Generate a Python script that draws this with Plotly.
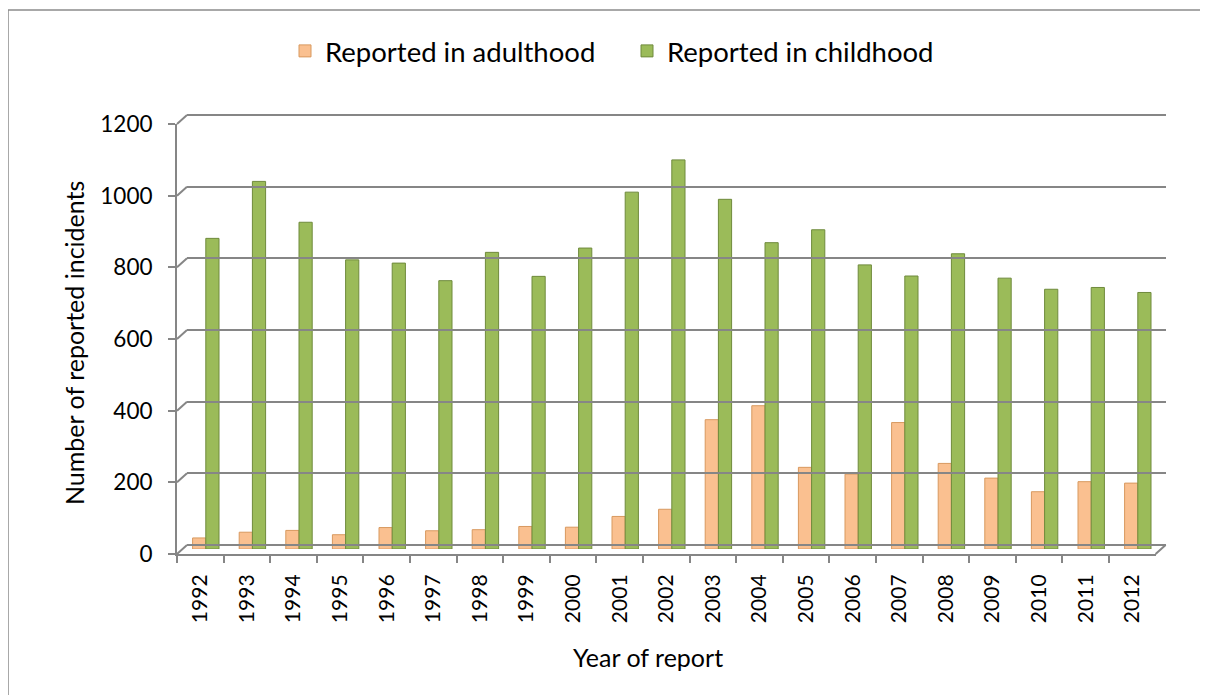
import plotly.graph_objects as go

# ---------------- data ----------------
years = ["1992", "1993", "1994", "1995", "1996", "1997", "1998", "1999", "2000", "2001", "2002",
         "2003", "2004", "2005", "2006", "2007", "2008", "2009", "2010", "2011", "2012"]
adulthood = [31, 47, 52, 40, 60, 51, 54, 63, 61, 91, 111, 361, 400, 228, 209, 353, 239, 198, 160, 188, 184]
childhood = [867, 1026, 912, 807, 798, 749, 828, 761, 840, 996, 1086, 976, 855, 891, 793, 762, 824, 756, 725, 730, 716]
y_ticks = [0, 200, 400, 600, 800, 1000, 1200]
series_names = ["Reported in adulthood", "Reported in childhood"]
x_title = "Year of report"
y_title = "Number of reported incidents"

# ---------------- layout geometry (screen pixels) ----------------
W, H = 1208, 695
BODY = 8                         # default page body margin
FX0, CATW = 177, 46.6            # front x axis start, category width
N = len(years)
FX1 = FX0 + CATW * N
FY0, FY1 = 554, 124              # front y pixel of 0 and of max tick
YMAX = y_ticks[-1]
S = (FY0 - FY1) / YMAX           # px per unit
DX, DY = 10, 9                   # 3D depth offset of back wall
BAR_DEPTH = 0.55                 # bars sit at mid depth
BAR_W = 13.2
FONT = "Lato"
GRID = "#868686"


def px_x(p):
    return (p - BODY) / W


def px_y(p):
    return 1 - (p - BODY) / H


fig = go.Figure()
shift = BAR_DEPTH * DX / CATW
w = BAR_W / CATW
fig.add_bar(x=years, y=adulthood, name=series_names[0], xaxis="x", yaxis="y2",
            width=w, offset=shift - w,
            marker=dict(color="#FAC090", line=dict(color="#D8995F", width=1)))
fig.add_bar(x=years, y=childhood, name=series_names[1], xaxis="x", yaxis="y2",
            width=w, offset=shift,
            marker=dict(color="#9BBB59", line=dict(color="#6F8A3C", width=1)))
# helper (empty) traces so the front-axis subplot and the back-wall grid subplot exist
fig.add_scatter(x=[None], y=[None], xaxis="x", yaxis="y", showlegend=False, hoverinfo="skip")
fig.add_scatter(x=[None], y=[None], xaxis="x2", yaxis="y3", showlegend=False, hoverinfo="skip")

pad = 3
bar_dy = BAR_DEPTH * DY
shapes = []
for v in y_ticks:
    shapes.append(dict(type="line", xref="paper", yref="paper",
                       x0=px_x(FX0), y0=px_y(FY0 - v * S),
                       x1=px_x(FX0 + DX), y1=px_y(FY0 - v * S - DY),
                       line=dict(color=GRID, width=2)))
shapes.append(dict(type="line", xref="paper", yref="paper",
                   x0=px_x(FX1), y0=px_y(FY0), x1=px_x(FX1 + DX), y1=px_y(FY0 - DY),
                   line=dict(color=GRID, width=2)))
# chart border
shapes.append(dict(type="rect", xref="paper", yref="paper",
                   x0=px_x(8), y0=px_y(10), x1=1.05, y1=-0.05,
                   line=dict(color="#8c8c8c", width=1.5)))

fig.update_layout(
    width=W, height=H,
    margin=dict(l=0, r=0, t=0, b=0),
    paper_bgcolor="white", plot_bgcolor="rgba(0,0,0,0)",
    barmode="overlay",
    showlegend=True,
    font=dict(family=FONT, color="black"),
    xaxis=dict(domain=[px_x(FX0), px_x(FX1)], type="category", categoryorder="array",
               categoryarray=years, range=[-0.5, N - 0.5], anchor="y",
               tickangle=-90, ticks="outside", tickson="boundaries", ticklen=7,
               tickwidth=2, tickcolor=GRID, showline=True, linecolor=GRID, linewidth=2,
               showgrid=False, zeroline=False, tickfont=dict(size=21, family=FONT),
               ticklabelstandoff=10, automargin=False, fixedrange=True),
    yaxis=dict(domain=[px_y(FY0), px_y(FY1)], range=[0, YMAX], anchor="x",
               tickvals=y_ticks, ticks="outside", ticklen=7, tickwidth=2, tickcolor=GRID,
               showline=True, linecolor=GRID, linewidth=2, showgrid=False, zeroline=False,
               tickfont=dict(size=22.5, family=FONT), ticklabelstandoff=11,
               automargin=False, fixedrange=True),
    yaxis2=dict(domain=[px_y(FY0 - bar_dy), px_y(FY1 - bar_dy)], range=[0, YMAX],
                anchor="x", visible=False, fixedrange=True),
    xaxis2=dict(domain=[px_x(FX0 + DX), px_x(FX1 + DX)], range=[0, 1], anchor="y3",
                visible=False, fixedrange=True),
    yaxis3=dict(domain=[px_y(FY0 - DY + pad), px_y(FY1 - DY - pad)],
                range=[-pad / S, YMAX + pad / S], anchor="x2",
                tickvals=y_ticks, showticklabels=False, ticks="", showline=False,
                showgrid=True, gridcolor=GRID, gridwidth=2, zeroline=False, fixedrange=True),
    legend=dict(orientation="h", x=px_x(285), xanchor="left", y=px_y(51), yanchor="middle",
                font=dict(size=27.5, family=FONT, color="black"),
                entrywidth=297, entrywidthmode="pixels", bgcolor="rgba(0,0,0,0)"),
    shapes=shapes,
    annotations=[
        dict(text=x_title, xref="paper", yref="paper", x=px_x(648), y=px_y(657),
             showarrow=False, font=dict(size=25, family=FONT, color="black"),
             xanchor="center", yanchor="middle"),
        dict(text=y_title, xref="paper", yref="paper", x=px_x(74), y=px_y(343),
             showarrow=False, textangle=-90, font=dict(size=25, family=FONT, color="black"),
             xanchor="center", yanchor="middle"),
    ],
)

fig.write_html("out.html")
